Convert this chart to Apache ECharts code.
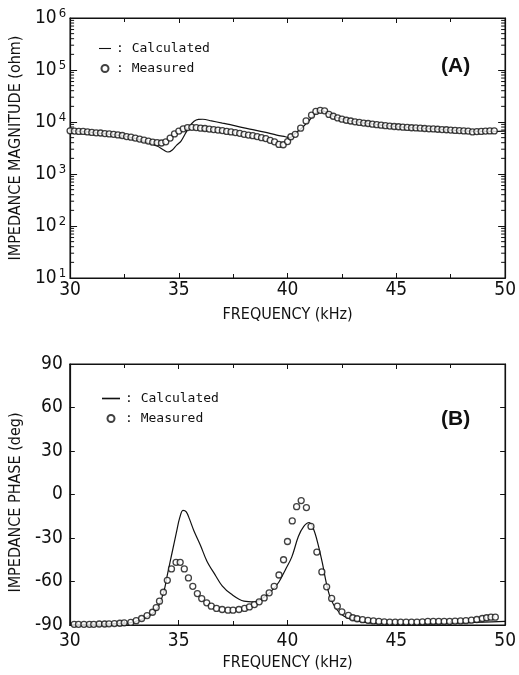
<!DOCTYPE html>
<html>
<head>
<meta charset="utf-8">
<script src="https://cdn.jsdelivr.net/npm/echarts@6/dist/echarts.min.js"></script>
<style>
html,body{margin:0;padding:0;background:#fff;}
#chart{width:519px;height:675px;}
</style>
</head>
<body>
<div id="chart"></div>
<script>
// ---------- Panel A: impedance magnitude (ohm) ----------
const magCalcFreq = [30.0,31.0,32.0,33.0,33.5,34.0,34.3,34.5,34.7,34.9,35.1,35.3,35.5,35.7,35.9,36.1,36.5,37.0,37.5,38.0,38.5,39.0,39.5,39.9,40.1,40.3,40.5,40.7,40.9,41.1,41.3,41.5,41.7,42.0,42.5,43.0,44.0,45.0,46.0,47.0,48.0,49.0,50.0];
const magCalcVal  = [6800,6300,5700,4800,4100,3450,2900,2650,2900,3600,4300,6000,8300,10300,11200,11300,10500,9500,8600,7700,7000,6300,5600,5200,5000,5800,6800,8000,9700,12000,14800,16500,16000,13500,11400,10300,9000,8150,7650,7200,6800,6600,6700];

const magMeasFreq = [30.0,30.2,30.4,30.6,30.8,31.0,31.2,31.4,31.6,31.8,32.0,32.2,32.4,32.6,32.8,33.0,33.2,33.4,33.6,33.8,34.0,34.2,34.4,34.6,34.8,35.0,35.2,35.4,35.6,35.8,36.0,36.2,36.4,36.6,36.8,37.0,37.2,37.4,37.6,37.8,38.0,38.2,38.4,38.6,38.8,39.0,39.2,39.4,39.6,39.8,40.0,40.15,40.35,40.6,40.85,41.1,41.3,41.5,41.7,41.9,42.1,42.3,42.5,42.7,42.9,43.1,43.3,43.5,43.7,43.9,44.1,44.3,44.5,44.7,44.9,45.1,45.3,45.5,45.7,45.9,46.1,46.3,46.5,46.7,46.9,47.1,47.3,47.5,47.7,47.9,48.1,48.3,48.5,48.7,48.9,49.1,49.3,49.5];
const magMeasVal  = [6760,6700,6600,6600,6450,6300,6200,6150,6000,5900,5800,5650,5500,5250,5100,4900,4700,4500,4300,4100,4000,3950,4150,4900,5900,6700,7400,7800,7900,7800,7600,7500,7300,7150,7000,6850,6600,6450,6250,6050,5800,5600,5450,5250,5000,4800,4450,4150,3700,3650,4200,5200,5800,7600,10500,13500,16000,16800,16400,14000,12900,12000,11350,10800,10450,10100,9800,9550,9350,9100,8900,8700,8500,8350,8200,8100,7950,7850,7750,7700,7600,7500,7400,7350,7250,7150,7100,7000,6900,6850,6750,6700,6450,6550,6600,6700,6750,6750];

// ---------- Panel B: impedance phase (deg) ----------
const phCalcFreq = [30.0,31.0,32.0,32.8,33.3,33.6,34.0,34.3,34.5,34.7,34.9,35.05,35.2,35.35,35.5,35.7,36.0,36.3,36.7,37.0,37.4,38.0,38.5,39.0,39.3,39.6,39.9,40.2,40.5,40.75,41.0,41.2,41.4,41.6,41.8,42.0,42.3,42.6,43.0,43.5,44.0,45.0,46.0,47.0,48.0,49.0,50.0];
const phCalcVal  = [-89.8,-89.5,-89,-88.3,-86,-84,-79,-68,-54,-40,-26,-16,-11,-12,-17,-25,-35,-46,-56,-63,-68.5,-73.5,-74,-70,-66,-60.5,-52,-43,-29,-22,-19.3,-24,-34,-47,-62,-72.5,-80,-84,-86.5,-88,-88.8,-89.3,-89.3,-89,-88.5,-88,-87.5];

const phMeasFreq = [30.2,30.4,30.65,30.9,31.1,31.35,31.6,31.8,32.05,32.3,32.5,32.8,33.05,33.3,33.55,33.8,33.97,34.12,34.3,34.48,34.67,34.88,35.07,35.26,35.45,35.65,35.86,36.06,36.29,36.5,36.74,37.0,37.27,37.5,37.77,38.03,38.25,38.48,38.7,38.93,39.16,39.39,39.61,39.82,40.0,40.22,40.42,40.63,40.87,41.08,41.35,41.58,41.8,42.03,42.29,42.5,42.8,43.0,43.2,43.45,43.7,43.95,44.2,44.45,44.7,44.95,45.2,45.45,45.7,45.95,46.2,46.45,46.7,46.95,47.2,47.45,47.7,47.95,48.2,48.45,48.7,48.95,49.15,49.35,49.55];
const phMeasVal  = [-89.5,-89.5,-89.5,-89.5,-89.5,-89.3,-89.3,-89.2,-89,-88.8,-88.5,-88.2,-87,-85.5,-83.5,-81.2,-78,-73.6,-67.4,-59.2,-51.3,-46.8,-46.8,-51.3,-57.5,-63.3,-68.3,-71.8,-74.7,-77,-78.6,-79.3,-79.8,-79.8,-79.3,-78.6,-77.5,-75.9,-74,-71.3,-67.8,-63.3,-55.5,-45,-32.4,-18.2,-8.4,-4.2,-9,-22,-39.7,-53.4,-63.7,-71.7,-77,-80.9,-83.4,-85,-85.7,-86.3,-86.8,-87.2,-87.5,-87.8,-88,-88,-88,-88,-88,-88,-87.8,-87.5,-87.5,-87.5,-87.5,-87.5,-87.3,-87.2,-87,-86.7,-86.2,-85.5,-85,-84.6,-84.6];

// ---------- Axis ticks ----------
const freqTicks = [30,35,40,45,50];
const phaseTicks = [-90,-60,-30,0,30,60,90];
const magDecades = [10,100,1000,10000,100000,1000000];
const logMinorMult = [2,3,4,5,6,7,8,9];

const zip = (a,b) => a.map((x,i)=>[x,b[i]]);
const minorVals = [];
magDecades.slice(0,-1).forEach(d => logMinorMult.forEach(m => minorVals.push([30, d*m])));

const LBL = "'Liberation Sans Narrow','DejaVu Sans Condensed','Liberation Sans',sans-serif";
const MONO = "'DejaVu Sans Mono','Liberation Mono',monospace";
const INK = '#111';
const LINE_ICON = 'path://M0,0 L100,0 L100,9 L0,9 Z';

function xAxes(grid, pos, show) {
  return {
    gridIndex: grid, type:'value', min:30, max:50, interval:5, position: pos,
    axisLine:{show:true, onZero:false, lineStyle:{color:INK, width:1.2}},
    axisTick:{show:true, inside:true, length:5, lineStyle:{color:INK, width:1}},
    minorTick:{show:true, splitNumber:2, length:4, lineStyle:{color:INK, width:1}},
    splitLine:{show:false},
    axisLabel:{show:show, fontFamily:LBL, fontSize:19, color:INK, margin: grid===0?3:7},
    name: show ? 'FREQUENCY (kHz)' : '', nameLocation:'middle', nameGap: grid===0?29:30,
    nameTextStyle:{fontFamily:LBL, fontSize:16, color:INK}
  };
}

function legendData() {
  return [
    {name:'Calculated', icon:LINE_ICON, itemStyle:{color:INK, borderWidth:0}},
    {name:'Measured', icon:'circle'}
  ];
}

const option = {
  animation:false,
  backgroundColor:'#fff',
  grid:[
    {left:68, top:18, width:441, height:260, show:true, borderColor:INK, borderWidth:1.2},
    {left:68, top:364, width:442, height:261, show:true, borderColor:INK, borderWidth:1.2}
  ],
  title:[
    {text:'(A)', left:436, top:51, textStyle:{fontFamily:"'Liberation Sans',Arial,sans-serif", fontWeight:'bold', fontSize:21, color:INK}},
    {text:'(B)', left:436, top:404, textStyle:{fontFamily:"'Liberation Sans',Arial,sans-serif", fontWeight:'bold', fontSize:21, color:INK}}
  ],
  legend:[
    {orient:'vertical', left:94, top:37, itemWidth:12, itemHeight:7, itemGap:7, selectedMode:false,
     data:legendData(), formatter:': {name}',
     textStyle:{fontFamily:MONO, fontSize:13, color:INK}},
    {orient:'vertical', left:97, top:387, itemWidth:18, itemHeight:7, itemGap:7, selectedMode:false,
     data:legendData(), formatter:': {name}',
     textStyle:{fontFamily:MONO, fontSize:13, color:INK}}
  ],
  xAxis:[ xAxes(0,'bottom',true), xAxes(0,'top',false), xAxes(1,'bottom',true), xAxes(1,'top',false) ],
  yAxis:[
    {gridIndex:0, type:'log', logBase:10, min:10, max:1000000, position:'left',
     axisLine:{show:true, lineStyle:{color:INK, width:1.2}},
     axisTick:{show:true, inside:true, length:7, lineStyle:{color:INK}},
     splitLine:{show:false},
     axisLabel:{fontFamily:LBL, color:INK, margin:4,
       formatter: v => '{b|10}{e|' + Math.round(Math.log10(v)) + '}',
       rich:{b:{fontFamily:LBL, fontSize:19, color:INK}, e:{fontFamily:LBL, fontSize:13, color:INK, padding:[0,0,9,2]}}},
     name:'IMPEDANCE MAGNITUDE (ohm)', nameLocation:'middle', nameGap:42,
     nameTextStyle:{fontFamily:LBL, fontSize:16, color:INK}},
    {gridIndex:0, type:'log', logBase:10, min:10, max:1000000, position:'right',
     axisLine:{show:true, lineStyle:{color:INK, width:1.2}},
     axisTick:{show:true, inside:true, length:7, lineStyle:{color:INK}},
     axisLabel:{show:false}, splitLine:{show:false}},
    {gridIndex:1, type:'value', min:-90, max:90, interval:30, position:'left',
     axisLine:{show:true, onZero:false, lineStyle:{color:INK, width:1.2}},
     axisTick:{show:true, inside:true, length:5, lineStyle:{color:INK}},
     splitLine:{show:false},
     axisLabel:{fontFamily:LBL, fontSize:19, color:INK, margin:7},
     name:'IMPEDANCE PHASE (deg)', nameLocation:'middle', nameGap:42,
     nameTextStyle:{fontFamily:LBL, fontSize:16, color:INK, padding:[0,0,0,-16]}},
    {gridIndex:1, type:'value', min:-90, max:90, interval:30, position:'right',
     axisLine:{show:true, onZero:false, lineStyle:{color:INK, width:1.2}},
     axisTick:{show:true, inside:true, length:5, lineStyle:{color:INK}},
     axisLabel:{show:false}, splitLine:{show:false}}
  ],
  series:[
    {name:'Calculated', type:'line', xAxisIndex:0, yAxisIndex:0, data:zip(magCalcFreq, magCalcVal),
     symbol:'none', smooth:0.35, lineStyle:{color:INK, width:1.2}, itemStyle:{color:INK}, z:3},
    {name:'Measured', type:'scatter', xAxisIndex:0, yAxisIndex:0, data:zip(magMeasFreq, magMeasVal),
     symbol:'circle', symbolSize:6, itemStyle:{color:'#fff', borderColor:INK, borderWidth:1.3}, z:4},
    {name:'Calculated', type:'line', xAxisIndex:2, yAxisIndex:2, data:zip(phCalcFreq, phCalcVal),
     symbol:'none', smooth:0.35, lineStyle:{color:INK, width:1.2}, itemStyle:{color:INK}, z:3},
    {name:'Measured', type:'scatter', xAxisIndex:2, yAxisIndex:2, data:zip(phMeasFreq, phMeasVal),
     symbol:'circle', symbolSize:6, itemStyle:{color:'#fff', borderColor:INK, borderWidth:1.3}, z:4},
    {name:'logMinorTicks', type:'custom', xAxisIndex:0, yAxisIndex:0, silent:true, data:minorVals,
     encode:{x:0, y:1},
     renderItem:(params, api) => {
       const v = api.value(1);
       const a = api.coord([30, v]);
       const b = api.coord([50, v]);
       return {type:'group', children:[
         {type:'line', shape:{x1:a[0], y1:a[1], x2:a[0]+4, y2:a[1]}, style:{stroke:INK, lineWidth:1}},
         {type:'line', shape:{x1:b[0]-4, y1:b[1], x2:b[0], y2:b[1]}, style:{stroke:INK, lineWidth:1}}
       ]};
     }}
  ]
};

const chart = echarts.init(document.getElementById('chart'), null, {renderer:'canvas'});
chart.setOption(option);
</script>
</body>
</html>
